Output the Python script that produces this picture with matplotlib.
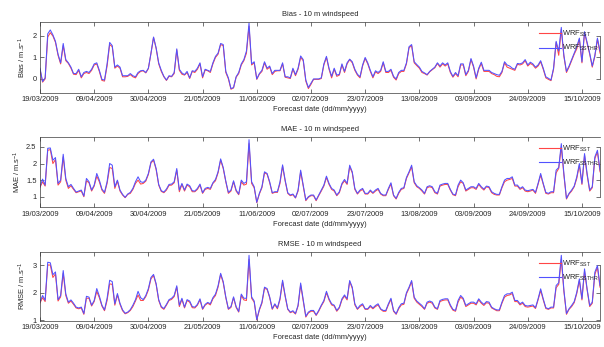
"""Daily verification scores of 10 m windspeed for the two WRF runs
(SST vs SSTHR), Mar-Oct 2009, three stacked panels."""
import matplotlib
matplotlib.use("Agg")
import matplotlib.pyplot as plt
import numpy as np
import pandas as pd

plt.rcParams["font.family"] = ["Liberation Sans", "DejaVu Sans"]
plt.rcParams["mathtext.fontset"] = "custom"
plt.rcParams["mathtext.rm"] = "Liberation Sans"
plt.rcParams["mathtext.it"] = "Liberation Sans:italic"

start_date = "2009-03-19"
tick_labels = ["19/03/2009", "09/04/2009", "30/04/2009", "21/05/2009", "11/06/2009",
               "02/07/2009", "23/07/2009", "13/08/2009", "03/09/2009", "24/09/2009",
               "15/10/2009"]

bias_ssthr = [
    0.5, -0.12, 0.05, 2.1, 2.28, 2.05, 1.75, 1.15, 0.75, 1.65,
    0.9, 0.75, 0.55, 0.25, 0.25, 0.45, 0.1, 0.3, 0.35, 0.3,
    0.45, 0.7, 0.75, 0.4, -0.02, -0.05, 0.7, 1.7, 1.55, 0.55,
    0.65, 0.55, 0.15, 0.15, 0.15, 0.25, 0.15, 0.1, 0.3, 0.38,
    0.4, 0.3, 0.5, 1.2, 1.95, 1.45, 0.75, 0.4, 0.12, -0.05,
    0.15, 0.12, 0.3, 1.4, 0.45, 0.28, 0.2, 0.35, 0.05, 0.38,
    0.35, 0.5, 0.75, 0.1, 0.45, 0.4, 0.35, 0.75, 1.05, 1.2,
    1.65, 1.6, 0.35, 0.05, -0.45, -0.4, 0.1, 0.3, 0.7, 0.9,
    1.3, 2.6, 0.7, 0.8, 0.0, 0.25, 0.4, 0.8, 0.5, 0.6,
    0.25, 0.4, 0.4, 0.4, 0.75, 0.1, 0.1, 0.05, 0.5, 0.2,
    0.5, 1.07, 0.9, -0.05, -0.4, -0.2, 0.0, 0.0, 0.0, 0.05,
    0.7, 1.05, 0.5, 0.12, 0.5, 0.18, 0.22, 0.7, 0.35, 0.75,
    0.92, 0.8, 0.45, 0.22, 0.1, 0.65, 1.0, 0.75, 0.4, 0.1,
    0.38, 0.3, 0.4, 0.8, 0.35, 0.35, 0.45, 0.12, 0.0, 0.3,
    0.4, 0.4, 0.75, 1.5, 1.6, 0.8, 0.67, 0.55, 0.35, 0.28,
    0.2, 0.35, 0.45, 0.55, 0.75, 0.6, 0.75, 0.65, 0.75, 0.35,
    0.12, 0.3, 0.15, 0.7, 0.7, 0.2, 0.4, 0.95, 0.6, 0.05,
    0.5, 0.78, 0.4, 0.4, 0.4, 0.3, 0.25, 0.2, 0.17, 0.35,
    0.8, 0.65, 0.6, 0.5, 0.45, 0.72, 0.7, 0.75, 0.9, 0.65,
    0.78, 0.7, 0.55, 0.65, 0.85, 0.5, 0.1, 0.03, -0.05, 0.5,
    1.75, 1.3, 2.4, 1.1, 0.35, 0.6, 0.9, 1.2, 1.5, 1.9,
    0.8, 2.2, 1.7, 1.2, 0.6, 1.1, 1.9, 1.3,
]
bias_sst = [
    0.45, -0.15, 0.0, 1.95, 2.15, 2.0, 1.7, 1.1, 0.7, 1.55,
    0.85, 0.72, 0.5, 0.22, 0.2, 0.4, 0.05, 0.25, 0.3, 0.25,
    0.4, 0.65, 0.7, 0.35, -0.07, -0.1, 0.6, 1.6, 1.5, 0.5,
    0.6, 0.5, 0.1, 0.1, 0.12, 0.2, 0.1, 0.05, 0.25, 0.35,
    0.38, 0.28, 0.48, 1.18, 1.93, 1.42, 0.7, 0.35, 0.1, -0.07,
    0.12, 0.1, 0.25, 1.35, 0.4, 0.22, 0.18, 0.3, 0.02, 0.35,
    0.3, 0.45, 0.7, 0.05, 0.42, 0.38, 0.3, 0.7, 1.0, 1.15,
    1.6, 1.55, 0.3, 0.0, -0.48, -0.42, 0.08, 0.25, 0.65, 0.85,
    1.2, 2.45, 0.65, 0.75, -0.02, 0.22, 0.35, 0.75, 0.45, 0.55,
    0.2, 0.35, 0.38, 0.38, 0.7, 0.08, 0.05, 0.02, 0.45, 0.15,
    0.45, 1.0, 0.85, -0.1, -0.45, -0.25, -0.02, -0.02, -0.02, 0.02,
    0.65, 1.0, 0.45, 0.05, 0.45, 0.12, 0.18, 0.65, 0.3, 0.7,
    0.9, 0.75, 0.4, 0.18, 0.05, 0.6, 0.95, 0.7, 0.35, 0.05,
    0.33, 0.25, 0.35, 0.75, 0.3, 0.3, 0.4, 0.08, -0.05, 0.25,
    0.35, 0.35, 0.7, 1.45, 1.55, 0.75, 0.62, 0.5, 0.3, 0.25,
    0.18, 0.33, 0.43, 0.52, 0.72, 0.55, 0.7, 0.6, 0.7, 0.3,
    0.08, 0.25, 0.1, 0.65, 0.65, 0.15, 0.35, 0.9, 0.55, 0.0,
    0.45, 0.72, 0.35, 0.35, 0.35, 0.25, 0.2, 0.12, 0.1, 0.3,
    0.75, 0.55, 0.5, 0.45, 0.4, 0.68, 0.65, 0.7, 0.85, 0.6,
    0.72, 0.65, 0.5, 0.6, 0.8, 0.45, 0.05, -0.02, -0.08, 0.45,
    1.7, 1.1, 2.3, 1.05, 0.3, 0.55, 0.85, 1.15, 1.4, 1.85,
    0.75, 2.15, 1.65, 1.15, 0.55, 1.05, 1.85, 1.2,
]

mae_ssthr = [
    1.3, 1.53, 1.35, 2.46, 2.47, 2.1, 2.18, 1.4, 1.5, 2.28,
    1.55, 1.3, 1.37, 1.25, 1.14, 1.17, 1.2, 1.02, 1.55, 1.45,
    1.2, 1.35, 1.7, 1.5, 1.23, 1.13, 1.45, 2.0, 1.95, 1.3,
    1.5, 1.2, 1.07, 0.98, 1.08, 1.13, 1.25, 1.45, 1.6, 1.45,
    1.43, 1.5, 1.7, 2.05, 2.13, 1.85, 1.37, 1.18, 1.14, 1.23,
    1.37, 1.38, 1.45, 1.85, 1.2, 1.4, 1.2, 1.38, 1.33, 1.18,
    1.17, 1.25, 1.38, 1.12, 1.25, 1.28, 1.25, 1.42, 1.52, 1.75,
    2.14, 1.88, 1.47, 1.13, 1.2, 1.48, 1.2, 1.08, 1.5, 1.4,
    1.45, 2.72, 1.45, 1.3, 0.83, 1.1, 1.3, 1.75, 1.7, 1.45,
    1.12, 1.15, 1.15, 1.45, 1.96, 1.5, 1.12, 1.05, 1.08, 0.97,
    1.2, 1.8, 1.35, 0.9, 1.0, 1.05, 1.05, 0.9, 1.05, 1.2,
    1.35, 1.62, 1.4, 1.25, 1.2, 1.05, 1.15, 1.4, 1.52, 1.4,
    1.95, 1.75, 1.25, 1.1, 1.2, 1.25, 1.1, 1.1, 1.2, 1.12,
    1.2, 1.25, 1.1, 1.05, 1.05, 1.25, 1.42, 1.05, 0.95, 1.13,
    1.25, 1.27, 1.58, 1.75, 1.95, 1.45, 1.33, 1.27, 1.2, 1.1,
    1.3, 1.33, 1.3, 1.15, 1.1, 1.35, 1.38, 1.4, 1.4, 1.22,
    1.08, 1.05, 1.35, 1.5, 1.42, 1.2, 1.25, 1.3, 1.3, 1.25,
    1.4, 1.3, 1.23, 1.32, 1.3, 1.15, 1.1, 1.07, 1.07, 1.3,
    1.5, 1.55, 1.55, 1.6, 1.35, 1.35, 1.25, 1.3, 1.2, 1.18,
    1.2, 1.22, 1.13, 1.4, 1.7, 1.4, 1.13, 1.1, 1.15, 1.15,
    1.8, 1.88, 2.6, 1.7, 0.95, 1.1, 1.2, 1.32, 1.6, 2.0,
    1.4, 2.3, 1.7, 1.2, 1.3, 2.2, 2.4, 1.8,
]
mae_sst = [
    1.28, 1.45, 1.32, 2.4, 2.42, 2.0, 2.12, 1.35, 1.45, 2.2,
    1.5, 1.25, 1.33, 1.22, 1.12, 1.15, 1.17, 1.0, 1.48, 1.42,
    1.17, 1.32, 1.62, 1.45, 1.2, 1.1, 1.4, 1.88, 1.85, 1.25,
    1.47, 1.17, 1.05, 0.97, 1.07, 1.1, 1.22, 1.4, 1.5, 1.38,
    1.4, 1.47, 1.67, 2.02, 2.1, 1.82, 1.35, 1.16, 1.12, 1.2,
    1.34, 1.35, 1.42, 1.8, 1.15, 1.37, 1.17, 1.35, 1.3, 1.15,
    1.15, 1.22, 1.35, 1.1, 1.22, 1.25, 1.22, 1.4, 1.48, 1.72,
    2.1, 1.85, 1.45, 1.1, 1.17, 1.45, 1.17, 1.06, 1.45, 1.35,
    1.38, 2.6, 1.4, 1.27, 0.82, 1.08, 1.27, 1.72, 1.68, 1.42,
    1.1, 1.13, 1.13, 1.4, 1.92, 1.47, 1.1, 1.03, 1.06, 0.96,
    1.17, 1.75, 1.32, 0.88, 0.98, 1.03, 1.03, 0.88, 1.03, 1.17,
    1.32, 1.58, 1.37, 1.22, 1.17, 1.03, 1.12, 1.37, 1.48, 1.37,
    1.9, 1.72, 1.22, 1.08, 1.17, 1.22, 1.08, 1.08, 1.17, 1.1,
    1.17, 1.22, 1.08, 1.03, 1.03, 1.22, 1.38, 1.03, 0.93, 1.1,
    1.22, 1.25, 1.55, 1.72, 1.9, 1.42, 1.3, 1.25, 1.17, 1.08,
    1.27, 1.3, 1.27, 1.12, 1.08, 1.32, 1.35, 1.37, 1.37, 1.2,
    1.06, 1.03, 1.3, 1.45, 1.4, 1.17, 1.22, 1.27, 1.27, 1.22,
    1.37, 1.27, 1.2, 1.3, 1.27, 1.12, 1.07, 1.05, 1.05, 1.27,
    1.45, 1.5, 1.52, 1.55, 1.32, 1.32, 1.22, 1.27, 1.17, 1.15,
    1.17, 1.2, 1.1, 1.37, 1.65, 1.37, 1.1, 1.08, 1.12, 1.12,
    1.72, 1.85, 2.5, 1.65, 0.93, 1.08, 1.17, 1.3, 1.55, 1.95,
    1.37, 2.25, 1.65, 1.17, 1.27, 2.15, 2.35, 1.75,
]

rmse_ssthr = [
    1.67, 1.9, 1.73, 3.1, 3.08, 2.65, 2.75, 1.75, 1.9, 2.8,
    1.96, 1.66, 1.74, 1.62, 1.48, 1.45, 1.48, 1.25, 1.87, 1.84,
    1.55, 1.72, 2.15, 1.88, 1.55, 1.38, 1.8, 2.45, 2.4, 1.6,
    1.97, 1.62, 1.38, 1.26, 1.3, 1.39, 1.55, 1.75, 2.05, 1.82,
    1.75, 1.9, 2.15, 2.55, 2.66, 2.33, 1.75, 1.5, 1.43, 1.58,
    1.75, 1.8, 1.9, 2.25, 1.55, 1.8, 1.48, 1.75, 1.7, 1.5,
    1.48, 1.58, 1.78, 1.42, 1.58, 1.65, 1.6, 1.82, 1.95, 2.25,
    2.7, 2.4, 1.85, 1.42, 1.5, 1.85, 1.5, 1.32, 1.95, 1.8,
    1.8, 3.35, 1.85, 1.7, 1.03, 1.4, 1.66, 2.2, 2.15, 1.85,
    1.42, 1.6, 1.45, 1.8, 2.45, 1.9, 1.42, 1.3, 1.35, 1.25,
    1.55, 2.35, 1.75, 1.15, 1.3, 1.36, 1.36, 1.2, 1.36, 1.55,
    1.72, 2.05, 1.78, 1.6, 1.55, 1.36, 1.48, 1.78, 1.92, 1.78,
    2.44, 2.2, 1.6, 1.42, 1.54, 1.6, 1.42, 1.42, 1.54, 1.45,
    1.54, 1.6, 1.42, 1.36, 1.36, 1.6, 1.8, 1.36, 1.24, 1.46,
    1.6, 1.62, 2.0, 2.2, 2.44, 1.84, 1.7, 1.62, 1.54, 1.42,
    1.66, 1.7, 1.66, 1.48, 1.42, 1.72, 1.76, 1.78, 1.78, 1.56,
    1.4, 1.36, 1.72, 1.9, 1.8, 1.54, 1.6, 1.66, 1.66, 1.6,
    1.78, 1.66, 1.58, 1.68, 1.66, 1.48, 1.42, 1.38, 1.38, 1.66,
    1.9, 1.96, 1.96, 2.02, 1.72, 1.72, 1.6, 1.66, 1.54, 1.52,
    1.54, 1.56, 1.46, 1.78, 2.14, 1.78, 1.46, 1.42, 1.48, 1.48,
    2.26, 2.36, 3.35, 2.1, 1.25, 1.42, 1.54, 1.68, 2.02, 2.5,
    1.78, 2.86, 2.14, 1.54, 1.66, 2.74, 2.98, 2.26,
]
rmse_sst = [
    1.63, 1.82, 1.68, 3.0, 3.0, 2.55, 2.68, 1.7, 1.85, 2.7,
    1.9, 1.62, 1.7, 1.58, 1.45, 1.42, 1.45, 1.22, 1.8, 1.8,
    1.52, 1.68, 2.05, 1.82, 1.52, 1.35, 1.72, 2.32, 2.3, 1.55,
    1.92, 1.58, 1.35, 1.24, 1.28, 1.36, 1.5, 1.7, 1.92, 1.72,
    1.72, 1.86, 2.1, 2.5, 2.62, 2.3, 1.72, 1.47, 1.4, 1.55,
    1.72, 1.76, 1.86, 2.2, 1.5, 1.76, 1.45, 1.72, 1.66, 1.46,
    1.45, 1.55, 1.74, 1.4, 1.55, 1.62, 1.56, 1.78, 1.9, 2.2,
    2.66, 2.36, 1.82, 1.4, 1.47, 1.82, 1.47, 1.3, 1.9, 1.74,
    1.72, 3.2, 1.8, 1.66, 1.02, 1.37, 1.62, 2.16, 2.12, 1.82,
    1.4, 1.57, 1.42, 1.75, 2.4, 1.86, 1.4, 1.28, 1.32, 1.23,
    1.52, 2.28, 1.7, 1.12, 1.27, 1.33, 1.33, 1.18, 1.33, 1.52,
    1.68, 2.0, 1.74, 1.56, 1.52, 1.33, 1.45, 1.74, 1.88, 1.74,
    2.4, 2.16, 1.56, 1.4, 1.5, 1.56, 1.4, 1.4, 1.5, 1.42,
    1.5, 1.56, 1.4, 1.33, 1.33, 1.56, 1.76, 1.33, 1.22, 1.42,
    1.56, 1.58, 1.96, 2.16, 2.4, 1.8, 1.66, 1.58, 1.5, 1.4,
    1.62, 1.66, 1.62, 1.45, 1.4, 1.68, 1.72, 1.74, 1.74, 1.52,
    1.37, 1.33, 1.66, 1.84, 1.76, 1.5, 1.56, 1.62, 1.62, 1.56,
    1.74, 1.62, 1.54, 1.64, 1.62, 1.45, 1.4, 1.35, 1.35, 1.62,
    1.84, 1.9, 1.92, 1.97, 1.68, 1.68, 1.56, 1.62, 1.5, 1.48,
    1.5, 1.52, 1.43, 1.74, 2.08, 1.74, 1.43, 1.4, 1.45, 1.45,
    2.18, 2.3, 3.2, 2.05, 1.22, 1.4, 1.5, 1.64, 1.97, 2.44,
    1.74, 2.78, 2.1, 1.5, 1.62, 2.66, 2.92, 2.2,
]

TEXT = "#262626"
AX_COLOR = "#3a3a3a"
RED = "#ff4646"
BLUE = "#5252ff"
FS = 5.4

panels = [
    # (title, ylabel, sst, ssthr, ylim, yticks, yticklabels, ylabel x, axes rect)
    ("Bias - 10 m windspeed", "Bias / m.s$^{-1}$", bias_sst, bias_ssthr,
     (-0.64, 2.65), [0, 1, 2], ["0", "1", "2"], -0.022,
     [0.0662, 0.7329, 0.9272, 0.2037]),
    ("MAE - 10 m windspeed", "MAE / m.s$^{-1}$", mae_sst, mae_ssthr,
     (0.68, 2.81), [1, 1.5, 2, 2.5], ["1", "1.5", "2", "2.5"], -0.031,
     [0.0662, 0.4026, 0.9272, 0.2035]),
    ("RMSE - 10 m windspeed", "RMSE / m.s$^{-1}$", rmse_sst, rmse_ssthr,
     (0.99, 3.48), [1, 2, 3], ["1", "2", "3"], -0.022,
     [0.0662, 0.0758, 0.9272, 0.1988]),
]

dates = pd.date_range(start_date, periods=len(bias_ssthr), freq="D")
tick_dates = pd.to_datetime(tick_labels, format="%d/%m/%Y")

fig = plt.figure(figsize=(6.04, 3.47), dpi=100)

for title, ylabel, sst, ssthr, ylim, yticks, ytl, ylab_x, rect in panels:
    ax = fig.add_axes(rect)
    ax.plot(dates, sst, color=RED, lw=0.75)
    ax.plot(dates, ssthr, color=BLUE, lw=0.75)

    ax.set_xlim(dates[0], dates[-1])
    ax.set_ylim(*ylim)
    ax.set_xticks(tick_dates)
    ax.set_xticklabels(tick_labels)
    ax.set_yticks(yticks)
    ax.set_yticklabels(ytl)

    ax.tick_params(direction="in", length=3, width=0.5, colors=AX_COLOR,
                   labelcolor=TEXT, labelsize=FS, top=True, right=True, pad=2.5)
    for side in ["left", "bottom", "top", "right"]:
        ax.spines[side].set_color(AX_COLOR)
        ax.spines[side].set_linewidth(0.5)
    # MATLAB-style right axis only spans the tick range
    ax.spines["right"].set_bounds(yticks[0], yticks[-1])

    ax.set_title(title, fontsize=FS, color=TEXT, pad=4)
    ax.set_ylabel(ylabel, fontsize=FS, color=TEXT)
    ax.yaxis.set_label_coords(ylab_x, 0.5)
    ax.set_xlabel("Forecast date (dd/mm/yyyy)", fontsize=FS, color=TEXT)
    ax.xaxis.set_label_coords(0.5, -0.19)

    # legend drawn by hand, it spills over the right edge like the original
    h = rect[3] * 347
    for k, (col, lab) in enumerate([(RED, "WRF$_{\\mathrm{SST}}$"),
                                    (BLUE, "WRF$_{\\mathrm{SSTHR}}$")]):
        y = 1 - (11.3 + 14.3 * k) / h
        ax.plot([0.891, 0.930], [y, y], color=col, lw=0.8,
                transform=ax.transAxes, clip_on=False)
        ax.text(0.933, y - 2.6 / h, lab, fontsize=FS, color=TEXT, va="baseline",
                transform=ax.transAxes, clip_on=False)

fig.savefig("out.png", dpi=100)
